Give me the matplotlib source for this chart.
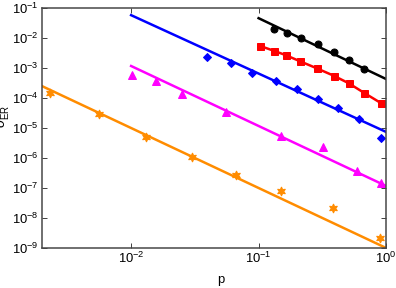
import numpy as np
import matplotlib
matplotlib.use("Agg")
import matplotlib.pyplot as plt
from matplotlib.ticker import LogLocator, NullLocator

plt.rcParams['font.family'] = ['Liberation Sans', 'DejaVu Sans']
plt.rcParams['mathtext.fontset'] = 'custom'
plt.rcParams['mathtext.rm'] = 'Liberation Sans'
plt.rcParams['mathtext.it'] = 'Liberation Sans:italic'

# data (log-log)
p_black = [0.131, 0.166, 0.214, 0.292, 0.39, 0.51, 0.67]
s_black = [2.0e-2, 1.47e-2, 1.0e-2, 6.3e-3, 3.4e-3, 1.85e-3, 9.3e-4]
fit_black_p = [0.1, 1.0]
fit_black_s = [4.6e-2, 4.3e-4]

p_red = [0.102, 0.131, 0.163, 0.21, 0.286, 0.39, 0.51, 0.67, 0.91]
s_red = [5.5e-3, 3.8e-3, 2.7e-3, 1.7e-3, 9.8e-4, 5.5e-4, 3.1e-4, 1.5e-4, 6.8e-5]

p_blue = [0.0396, 0.0603, 0.0891, 0.136, 0.2, 0.29, 0.417, 0.617, 0.908]
s_blue = [2.3e-3, 1.44e-3, 7.0e-4, 3.7e-4, 1.95e-4, 9.3e-5, 4.5e-5, 2.0e-5, 4.8e-6]
fit_blue_p = [0.01, 1.0]
fit_blue_s = [5.8e-2, 7.4e-6]

p_mag = [0.0101, 0.0156, 0.0251, 0.0557, 0.149, 0.321, 0.587, 0.914]
s_mag = [5.8e-4, 3.8e-4, 1.36e-4, 3.5e-5, 5.4e-6, 2.4e-6, 3.7e-7, 1.44e-7]
fit_mag_p = [0.01, 1.0]
fit_mag_s = [1.17e-3, 1.17e-7]

p_orange = [0.00233, 0.0056, 0.0131, 0.0301, 0.0667, 0.149, 0.385, 0.897]
s_orange = [1.44e-4, 2.86e-5, 5.1e-6, 1.05e-6, 2.7e-7, 8.1e-8, 2.1e-8, 2.1e-9]
fit_orange_p = [0.002, 1.0]
fit_orange_s = [2.5e-4, 1.0e-9]

orange = '#ff8c00'

fig = plt.figure(figsize=(5.5, 4), dpi=72)
ax = fig.add_axes([0.106, 0.139, 0.869, 0.833])

lw = 2.5
ax.plot(fit_black_p, fit_black_s, color='black', lw=lw)
ax.plot(p_black, s_black, 'o', color='black', ms=7)

ax.plot(p_red, s_red, '-s', color='red', lw=lw, ms=7)

ax.plot(fit_blue_p, fit_blue_s, color='blue', lw=lw)
ax.plot(p_blue, s_blue, 'D', color='blue', ms=6)

ax.plot(fit_mag_p, fit_mag_s, color='magenta', lw=lw)
ax.plot(p_mag, s_mag, '^', color='magenta', ms=8)

ax.plot(fit_orange_p, fit_orange_s, color=orange, lw=lw)
ax.plot(p_orange, s_orange, marker=(6, 1, 0), ls='none', color=orange, ms=9)

ax.set_xscale('log')
ax.set_yscale('log')
ax.set_xlim(0.002, 1.0)
ax.set_ylim(1e-9, 1e-1)

ax.yaxis.set_major_locator(LogLocator(base=10, numticks=20))
ax.xaxis.set_minor_locator(NullLocator())
ax.yaxis.set_minor_locator(NullLocator())

ax.tick_params(axis='both', which='major', direction='in', top=True, right=True,
               length=5, width=1.0, color='#444444', labelsize=13, pad=3)
for spine in ax.spines.values():
    spine.set_linewidth(1.5)
    spine.set_color('#444444')

ax.set_xlabel('p', fontsize=13)
ax.xaxis.set_label_coords(0.52, -0.11)
ax.set_ylabel(r'$\sigma^2_{\rm ER}$', fontsize=14)
ax.yaxis.set_label_coords(-0.085, 0.55)

fig.savefig('out.png', dpi=72)
